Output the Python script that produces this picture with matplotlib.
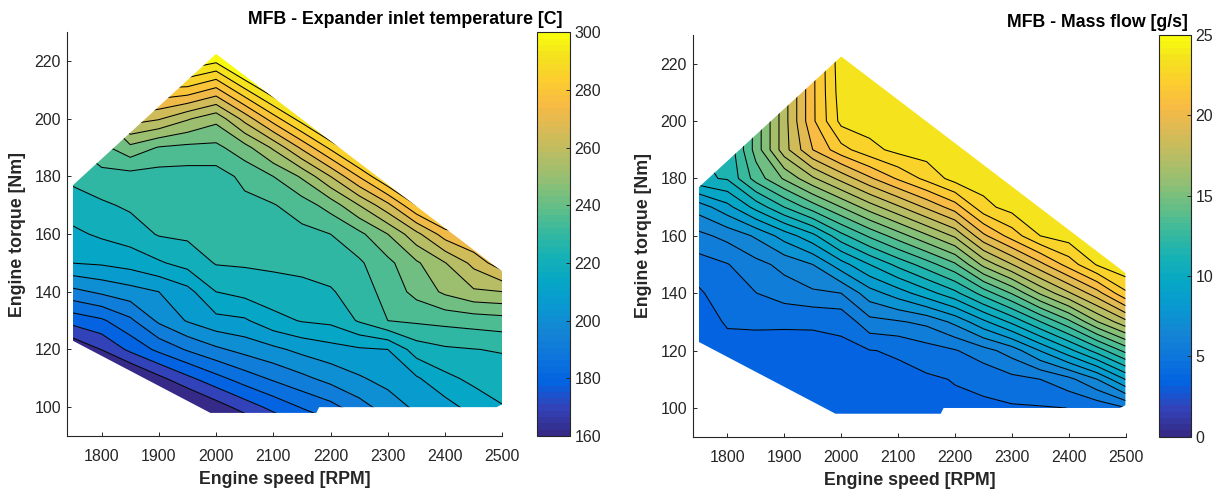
import numpy as np
import matplotlib

matplotlib.use("Agg")
import matplotlib.pyplot as plt
from matplotlib.cm import ScalarMappable
from matplotlib.colors import LinearSegmentedColormap, Normalize
from matplotlib.patches import Polygon

plt.rcParams["font.family"] = ["Liberation Sans", "DejaVu Sans"]

# operating grid
speed = [1750, 1800, 1850, 1900, 1950, 2000, 2050, 2100,
         2150, 2200, 2250, 2300, 2350, 2400, 2450, 2500]
torque = [95, 100, 110, 120, 130, 140, 150, 160, 170, 180, 190, 200, 210, 220, 230]

# expander inlet temperature [C], one row per engine speed (torque ascending)
temp = [
    [138.4, 144.2, 151.4, 160.7, 177.1, 193.9, 210.5, 216.1, 221.4, 226.6, 231.3, 236.3, 241.4, 246.4, 251.4],
    [131.2, 137.0, 149.9, 167.4, 180.4, 197.4, 211.4, 218.8, 223.6, 229.7, 237.0, 245.0, 252.2, 259.4, 266.6],
    [131.2, 139.1, 157.1, 176.1, 187.3, 200.3, 213.3, 221.1, 226.0, 229.1, 244.3, 264.4, 284.6, 304.0, 322.0],
    [138.4, 147.8, 165.3, 183.4, 197.4, 203.2, 216.7, 225.4, 227.3, 228.8, 238.6, 261.5, 281.0, 300.4, 318.4],
    [148.5, 156.4, 172.7, 189.6, 203.8, 208.0, 220.3, 226.2, 227.7, 228.8, 237.3, 254.4, 279.8, 302.6, 311.2],
    [155.7, 163.5, 179.3, 194.6, 208.2, 217.6, 225.3, 226.6, 227.7, 228.8, 237.3, 248.5, 273.2, 298.2, 314.8],
    [162.9, 170.4, 185.2, 198.4, 209.4, 219.9, 225.7, 228.0, 230.2, 233.8, 243.7, 263.4, 288.4, 312.6, 325.6],
    [170.1, 176.6, 190.0, 201.5, 215.2, 221.9, 226.1, 228.8, 231.5, 239.2, 254.8, 278.9, 302.6, 322.0, 340.0],
    [175.8, 182.1, 194.2, 205.2, 218.1, 222.8, 226.7, 230.0, 235.6, 247.4, 269.5, 293.2, 314.8, 336.4, 354.4],
    [180.9, 186.4, 198.5, 207.7, 219.3, 224.1, 228.1, 232.0, 242.1, 260.8, 284.1, 308.3, 329.2, 350.8, 368.8],
    [184.5, 193.0, 202.4, 209.4, 225.6, 228.2, 230.9, 237.3, 253.6, 275.6, 299.0, 322.0, 347.2, 368.8, 390.4],
    [195.3, 199.4, 205.7, 210.4, 232.0, 234.7, 237.3, 246.4, 265.9, 291.0, 314.8, 340.0, 361.6, 383.2, 404.8],
    [202.1, 204.6, 209.5, 221.1, 233.2, 241.5, 245.3, 258.7, 282.4, 307.6, 332.8, 354.4, 376.0, 397.6, 419.2],
    [204.6, 207.5, 215.8, 223.7, 234.1, 247.8, 253.3, 271.5, 293.2, 318.4, 340.0, 361.6, 383.2, 404.8, 426.4],
    [209.7, 213.1, 219.4, 224.6, 235.1, 252.5, 262.9, 276.6, 296.8, 318.4, 340.0, 361.6, 383.2, 404.8, 426.4],
    [214.7, 217.2, 221.1, 225.4, 236.2, 253.5, 273.0, 293.2, 311.2, 332.8, 354.4, 376.0, 397.6, 419.2, 440.8],
]

# working fluid mass flow [g/s], same layout
mflow = [
    [3.30, 3.33, 3.40, 3.48, 3.60, 3.85, 4.56, 5.72, 7.47, 10.80, 11.00, 11.00, 11.00, 11.00, 11.00],
    [3.30, 3.35, 3.50, 3.70, 4.09, 4.61, 4.95, 6.31, 8.67, 11.10, 11.20, 11.20, 11.20, 11.20, 11.20],
    [3.35, 3.42, 3.58, 3.70, 4.12, 4.98, 5.68, 7.14, 10.33, 13.43, 14.40, 14.40, 14.40, 14.40, 14.40],
    [3.40, 3.48, 3.65, 3.72, 4.10, 5.50, 6.29, 8.43, 12.00, 15.14, 17.60, 17.60, 17.60, 17.60, 17.60],
    [3.45, 3.55, 3.65, 3.75, 4.10, 5.83, 7.00, 9.71, 13.50, 16.83, 20.00, 20.80, 20.80, 20.80, 20.80],
    [3.50, 3.60, 3.70, 3.80, 4.20, 6.00, 8.57, 11.67, 15.00, 18.33, 21.63, 23.30, 23.50, 23.60, 23.70],
    [3.55, 3.65, 3.82, 3.97, 5.67, 7.55, 10.00, 13.17, 16.50, 19.83, 22.67, 23.50, 23.65, 23.75, 23.80],
    [3.60, 3.70, 3.80, 4.09, 5.89, 8.50, 11.29, 14.50, 17.83, 21.14, 23.30, 23.60, 23.75, 23.80, 23.80],
    [3.65, 3.75, 3.85, 4.55, 6.25, 9.57, 12.50, 15.83, 19.17, 22.29, 23.50, 23.70, 23.80, 23.85, 23.90],
    [3.70, 3.80, 4.05, 4.92, 7.25, 10.71, 13.83, 17.17, 20.50, 23.40, 23.70, 23.80, 23.85, 23.90, 23.90],
    [3.75, 3.85, 4.22, 5.61, 8.75, 12.41, 16.28, 19.77, 22.68, 23.50, 23.70, 23.80, 23.85, 23.90, 23.90],
    [3.80, 3.88, 4.70, 6.46, 10.22, 14.08, 17.96, 21.44, 23.40, 23.70, 23.80, 23.85, 23.90, 23.90, 23.90],
    [3.85, 3.92, 5.00, 8.04, 11.96, 16.14, 19.70, 23.00, 23.60, 23.75, 23.85, 23.90, 23.90, 23.90, 23.90],
    [3.90, 4.01, 5.70, 9.67, 13.72, 17.85, 21.43, 23.50, 23.70, 23.80, 23.90, 23.90, 23.90, 23.90, 23.90],
    [3.70, 4.30, 7.00, 11.43, 15.94, 19.60, 23.10, 23.60, 23.80, 23.90, 23.90, 23.90, 23.90, 23.90, 23.90],
    [3.60, 4.95, 9.04, 13.32, 17.69, 21.80, 23.90, 23.90, 23.90, 23.90, 23.90, 23.90, 23.90, 23.90, 23.90],
]

# measured envelope of the engine map
domain_speed = [1750, 1750, 2000, 2500, 2500, 2490, 2180, 2175, 1990]
domain_torque = [123, 177, 222.5, 147, 101, 100, 100, 98, 98]

temp_lines = [167.2 + 7.2 * k for k in range(20)]
temp_fill = [100] + temp_lines + [500]
temp_ticks = [160, 180, 200, 220, 240, 260, 280, 300]
mflow_lines = list(range(4, 24))
mflow_fill = [3] + mflow_lines + [24]
mflow_ticks = [0, 5, 10, 15, 20, 25]

# parula
_parula = [
    (0.2081, 0.1663, 0.5292), (0.1959, 0.2645, 0.7279), (0.0117, 0.3875, 0.8820),
    (0.0498, 0.4586, 0.8641), (0.0793, 0.5200, 0.8312), (0.0343, 0.5966, 0.8199),
    (0.0228, 0.6535, 0.7768), (0.0843, 0.6928, 0.7062), (0.2178, 0.7250, 0.6193),
    (0.3953, 0.7459, 0.5244), (0.5709, 0.7485, 0.4494), (0.7184, 0.7411, 0.3905),
    (0.8507, 0.7299, 0.3360), (0.9739, 0.7314, 0.2666), (0.9880, 0.8066, 0.1794),
    (0.9589, 0.8949, 0.1132), (0.9763, 0.9831, 0.0538),
]
_pos = [0, 4, 8, 12, 16, 20, 24, 28, 32, 36, 40, 44, 48, 52, 56, 60, 63]
parula = LinearSegmentedColormap.from_list(
    "parula", [(p / 63, c) for p, c in zip(_pos, _parula)], N=64)

AX_COLOR = "#262626"


def panel(fig, rect, cbar_rect, data, lines, fill, vmin, vmax, ticks, title, title_xy):
    ax = fig.add_axes(rect)
    cax = fig.add_axes(cbar_rect)
    Z = np.array(data).T
    norm = Normalize(vmin=vmin, vmax=vmax)

    clip = Polygon(np.column_stack([domain_speed, domain_torque]), closed=True,
                   transform=ax.transData, facecolor="none", edgecolor="none")
    ax.add_patch(clip)
    cf = ax.contourf(speed, torque, Z, levels=fill, cmap=parula, norm=norm,
                     antialiased=True)
    cl = ax.contour(speed, torque, Z, levels=lines, colors="k", linewidths=0.75)
    cf.set_clip_path(clip)
    cl.set_clip_path(clip)

    ax.set_xlim(1740, 2500)
    ax.set_ylim(90, 230)
    ax.set_xticks(range(1800, 2501, 100))
    ax.set_yticks(range(100, 221, 20))
    for s in ("top", "right"):
        ax.spines[s].set_visible(False)
    for s in ("left", "bottom"):
        ax.spines[s].set_color(AX_COLOR)
        ax.spines[s].set_linewidth(0.8)
    ax.tick_params(direction="in", length=3, width=0.7, colors=AX_COLOR,
                   labelsize=11.5)
    ax.tick_params(axis="x", pad=9.5)
    ax.tick_params(axis="y", pad=4.5)
    ax.set_xlabel("Engine speed [RPM]", fontsize=12.8, fontweight="bold",
                  color=AX_COLOR, labelpad=5)
    ax.set_ylabel("Engine torque [Nm]", fontsize=12.8, fontweight="bold",
                  color=AX_COLOR, labelpad=6)

    cb = fig.colorbar(ScalarMappable(norm=norm, cmap=parula), cax=cax)
    cb.set_ticks(ticks)
    cb.outline.set_edgecolor(AX_COLOR)
    cb.outline.set_linewidth(0.8)
    cax.tick_params(direction="in", length=3, width=0.7, colors=AX_COLOR,
                    labelsize=11.5, pad=3.5)

    fig.text(title_xy[0], title_xy[1], title, ha="right", va="baseline",
             fontsize=12.8, fontweight="bold", color="black")
    return ax


fig = plt.figure(figsize=(12.21, 4.96), dpi=100)

panel(fig, [0.0551, 0.1210, 0.3563, 0.8139], [0.4396, 0.1210, 0.0270, 0.8139],
      temp, temp_lines, temp_fill, 160, 300, temp_ticks,
      "MFB - Expander inlet temperature [C]", (0.4603, 0.9516))
panel(fig, [0.5678, 0.1196, 0.3541, 0.8099], [0.9495, 0.1196, 0.0257, 0.8099],
      mflow, mflow_lines, mflow_fill, 0, 25, mflow_ticks,
      "MFB - Mass flow [g/s]", (0.9732, 0.9456))

fig.savefig("out.png", dpi=100)
